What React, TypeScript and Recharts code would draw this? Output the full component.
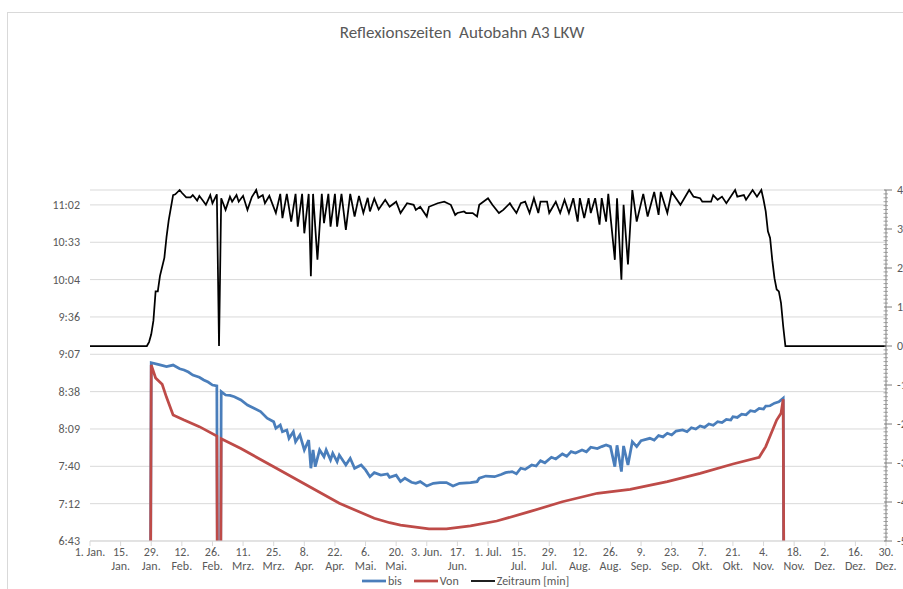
import React from 'react';
import { LineChart, Line, XAxis, YAxis, CartesianGrid } from 'recharts';

const chartTitle = 'Reflexionszeiten  Autobahn A3 LKW';
const seriesNames = ['bis', 'Von', 'Zeitraum [min]'];
const seriesColors = ['#4a7ebb', '#be4b48', '#000000'];

// x axis: day of year (leap year), ticks every 14 days
const xTickDays = [0, 14, 28, 42, 56, 70, 84, 98, 112, 126, 140, 154, 168, 182, 196, 210, 224, 238, 252, 266, 280, 294, 308, 322, 336, 350, 364];
const xTickLabels = ['1. Jan.', '15.\nJan.', '29.\nJan.', '12.\nFeb.', '26.\nFeb.', '11.\nMrz.', '25.\nMrz.', '8.\nApr.', '22.\nApr.', '6.\nMai.', '20.\nMai.', '3. Jun.', '17.\nJun.', '1. Jul.', '15.\nJul.', '29.\nJul.', '12.\nAug.', '26.\nAug.', '9.\nSep.', '23.\nSep.', '7.\nOkt.', '21.\nOkt.', '4.\nNov.', '18.\nNov.', '2.\nDez.', '16.\nDez.', '30.\nDez.'];

// left axis: time of day in minutes after midnight
const timeTicks = [403.2, 432, 460.8, 489.6, 518.4, 547.2, 576, 604.8, 633.6, 662.4];
const timeTickLabels = ['6:43', '7:12', '7:40', '8:09', '8:38', '9:07', '9:36', '10:04', '10:33', '11:02'];
const timeDomain = [403.2, 673.9];

// right axis: minutes
const zeitDomain = [-50, 40];

// "bis" (end of reflection), minutes after midnight
const bisDays = [0, 27, 28, 32, 35, 38, 41, 43, 45, 47, 50, 52, 54, 56, 58, 59, 60, 62, 64, 66, 69, 72, 75, 78, 81, 84, 85, 87, 88, 90, 91, 93, 94, 96, 98, 100, 101, 102, 103, 105, 107, 108, 110, 111, 113, 114, 117, 119, 121, 124, 126, 128, 130, 133, 136, 137, 140, 142, 144, 147, 149, 151, 154, 157, 160, 163, 166, 169, 174, 177, 178, 181, 185, 188, 190, 193, 195, 197, 199, 202, 204, 206, 208, 211, 213, 216, 218, 220, 222, 225, 227, 229, 232, 234, 236, 238, 240, 241, 243, 244, 246, 248, 250, 252, 256, 258, 260, 262, 264, 266, 268, 271, 273, 275, 277, 279, 281, 283, 285, 287, 289, 291, 293, 294, 296, 298, 300, 302, 304, 306, 308, 309, 311, 313, 315, 317, 318, 364];
const bisValues = [0, 0, 540.7, 539, 537.7, 538.9, 536, 535.1, 533.5, 531.2, 529.5, 527.4, 525.8, 523.5, 522.8, 0, 518.4, 515.8, 515.5, 514.5, 512, 508.1, 505.6, 503, 497.9, 495.2, 490.1, 492.7, 487.5, 488.8, 482.4, 487.5, 479.8, 485, 473.4, 481.1, 459.3, 473.4, 460.5, 473.4, 468.2, 473.4, 465.7, 470.9, 464.4, 469.5, 461.8, 467, 459.3, 461.8, 458, 452.8, 455.9, 454.1, 454.9, 452.3, 454, 449, 451.6, 448.5, 447.7, 449, 445.6, 447.7, 448.2, 448.2, 445.6, 447.7, 448.2, 449, 451.6, 453.3, 452.8, 454.5, 455.9, 456.7, 455, 459.3, 458.5, 461.8, 461, 465.1, 463.5, 467.8, 466.5, 470.3, 468.5, 472.1, 471, 473.4, 472, 475.5, 474.5, 476, 477.3, 476, 460.5, 477, 456.7, 476.5, 461.8, 479.8, 476, 480.5, 482.4, 481, 484.5, 483.5, 486.3, 485, 488, 488.8, 487.5, 490.5, 489.5, 491.9, 490.8, 493.5, 492.5, 495.2, 494.5, 497, 496.5, 499.1, 498.5, 501, 500.5, 503.7, 503, 505.5, 505, 507.3, 507.5, 509.5, 510.5, 513.3, 0, 0];

// "Von" (start of reflection), minutes after midnight
const vonDays = [0, 27, 28, 30, 33, 35, 38, 43, 50, 58, 59, 60, 69, 84, 99, 114, 130, 137, 142, 155, 163, 174, 186, 201, 216, 232, 247, 264, 279, 294, 306, 309, 314, 316, 317, 318, 364];
const vonValues = [0, 0, 539, 529, 524, 514, 500.4, 496.5, 491.4, 484.2, 0, 482, 474.5, 460.5, 446.4, 432.3, 420.7, 417.3, 415.5, 412.5, 412.5, 414.8, 418.6, 425.8, 433.5, 440, 443, 449, 455.4, 462.6, 467.8, 476, 496.5, 501.7, 512.5, 0, 0];

// "Zeitraum [min]" (duration)
const zeitDays = [0, 26, 27, 28, 29, 30, 31, 32, 34, 35, 36, 38, 39, 41, 42, 44, 46, 47, 49, 50, 52, 53, 55, 56, 58, 59, 60, 62, 64, 65, 67, 68, 70, 72, 74, 76, 77, 79, 80, 82, 85, 87, 88, 90, 92, 94, 95, 97, 98, 100, 101, 102, 104, 106, 107, 109, 110, 112, 113, 115, 117, 119, 121, 123, 125, 127, 128, 130, 132, 135, 137, 140, 142, 145, 148, 149, 151, 154, 155, 159, 162, 165, 167, 168, 171, 172, 175, 177, 178, 182, 184, 187, 189, 192, 193, 195, 197, 199, 201, 203, 205, 206, 209, 210, 213, 215, 217, 219, 221, 223, 224, 226, 228, 229, 231, 233, 234, 236, 237, 240, 241, 243, 244, 246, 248, 250, 253, 255, 258, 260, 261, 264, 266, 270, 274, 276, 279, 280, 284, 285, 287, 289, 291, 295, 296, 299, 300, 303, 305, 307, 308, 309, 310, 311, 312, 313, 314, 315, 316, 317, 318, 364];
const zeitValues = [0, 0, 1, 3, 6.5, 14, 14, 18, 22.6, 28, 32.3, 38.7, 38.9, 40, 39.3, 38.1, 38.1, 38.7, 37.3, 38.5, 37, 36.2, 38.7, 36.6, 38.9, 0, 37.9, 34.9, 38.3, 37, 38.7, 37, 38.5, 34.9, 38.2, 40, 38, 38.7, 36.6, 38.5, 34.1, 39, 32.8, 39, 31.9, 39, 30.6, 39, 28.9, 39, 17.9, 39, 22.1, 39, 31.5, 39, 30.6, 39, 30.6, 39, 29.8, 39, 33.2, 38.5, 34.1, 38, 34.5, 37.8, 35, 37.5, 35.7, 37, 34.1, 36.6, 36.2, 34.9, 35.7, 33.2, 35.7, 36.6, 37, 36.2, 33.6, 34.1, 34.5, 34.1, 34.1, 33.2, 36.2, 37.9, 36.2, 34.1, 34.9, 36.6, 35.7, 34.1, 36.6, 37, 34.1, 37.9, 34.1, 37, 37, 34.1, 37, 34.1, 37.5, 34.1, 37.9, 31.9, 37.9, 32.8, 37.9, 34.1, 37.9, 31.1, 37.9, 31.9, 39, 22.1, 37.9, 17, 36.2, 20.9, 40, 31.9, 39, 33.2, 39.5, 33.6, 39.5, 34.1, 39.5, 36.2, 40, 38.3, 37.9, 37, 37, 38.7, 37.5, 38.3, 36.6, 40, 38.3, 38.7, 37.5, 40, 38.3, 40, 37.5, 34.5, 29.4, 27.7, 22, 17.4, 14.5, 14, 11, 5, 0, 0];

const bisData = bisDays.map((d, i) => ({ day: d, v: bisValues[i] }));
const vonData = vonDays.map((d, i) => ({ day: d, v: vonValues[i] }));
const zeitData = zeitDays.map((d, i) => ({ day: d, v: zeitValues[i] }));

const zeitTicks: number[] = [];
for (let t = zeitDomain[0]; t <= zeitDomain[1]; t += 1) zeitTicks.push(t);

const FONT = 'Carlito, Calibri, "Liberation Sans", Arial, sans-serif';
const TEXT = '#595959';

const XTick = (props: any) => {
  const { x, y, payload } = props;
  const idx = xTickDays.indexOf(payload.value);
  const lines = (idx >= 0 ? xTickLabels[idx] : '').split('\n');
  return (
    <text x={x} y={y} textAnchor="middle" fill={TEXT} fontSize={12} fontFamily={FONT}>
      {lines.map((l, i) => (
        <tspan key={i} x={x} dy={i === 0 ? 9 : 14}>{l}</tspan>
      ))}
    </text>
  );
};

const LeftTick = (props: any) => {
  const { x, y, payload } = props;
  const idx = timeTicks.indexOf(payload.value);
  return (
    <text x={x} y={y} dy={4} textAnchor="end" fill={TEXT} fontSize={12} fontFamily={FONT}>
      {idx >= 0 ? timeTickLabels[idx] : ''}
    </text>
  );
};

const RightTick = (props: any) => {
  const { x, y, payload } = props;
  const v = payload.value;
  const major = v % 10 === 0;
  return (
    <g>
      {major ? (
        <line x1={x - 2} x2={x + 6} y1={y} y2={y} stroke="#7f7f7f" strokeWidth={1} />
      ) : (
        <line x1={x - 2.5} x2={x + 2} y1={y} y2={y} stroke="#8c8c8c" strokeWidth={0.8} />
      )}
      {major && (
        <text x={x + 11} y={y} dy={4} textAnchor="start" fill={TEXT} fontSize={12} fontFamily={FONT}>
          {v}
        </text>
      )}
    </g>
  );
};

export default function App() {
  return (
    <div style={{ position: 'fixed', left: 0, top: 0, width: 903, height: 589, background: '#fff', overflow: 'hidden', fontFamily: FONT }}>
      <div style={{ position: 'absolute', left: 7, top: 12, width: 920, height: 620, border: '1px solid #d9d9d9' }} />
      <div style={{ position: 'absolute', left: 0, width: 924, top: 23, textAlign: 'center', fontSize: 17, lineHeight: '20px', color: TEXT, whiteSpace: 'pre' }}>
        {chartTitle}
      </div>
      <div style={{ position: 'absolute', left: 0, top: 0 }}>
        <LineChart width={903} height={589} margin={{ top: 190, right: 0, bottom: 8, left: 30 }}>
          <CartesianGrid yAxisId="left" vertical={false} stroke="#d9d9d9" />
          <XAxis
            dataKey="day"
            type="number"
            domain={[0, 364]}
            ticks={xTickDays}
            interval={0}
            height={40}
            tickSize={5}
            tickMargin={1}
            stroke="#d9d9d9"
            tick={<XTick />}
            allowDataOverflow
          />
          <YAxis
            yAxisId="left"
            orientation="left"
            type="number"
            domain={timeDomain}
            ticks={timeTicks}
            interval={0}
            width={60}
            tickSize={0}
            tickMargin={10}
            axisLine={false}
            tickLine={false}
            tick={<LeftTick />}
            allowDataOverflow
          />
          <YAxis
            yAxisId="right"
            orientation="right"
            type="number"
            domain={zeitDomain}
            ticks={zeitTicks}
            interval={0}
            width={17}
            tickSize={0}
            tickMargin={0}
            axisLine={{ stroke: '#7f7f7f' }}
            tickLine={false}
            tick={<RightTick />}
          />
          <Line data={bisData} dataKey="v" name={seriesNames[0]} yAxisId="left" type="linear" stroke={seriesColors[0]} strokeWidth={2.75} dot={false} isAnimationActive={false} />
          <Line data={vonData} dataKey="v" name={seriesNames[1]} yAxisId="left" type="linear" stroke={seriesColors[1]} strokeWidth={2.75} dot={false} isAnimationActive={false} />
          <Line data={zeitData} dataKey="v" name={seriesNames[2]} yAxisId="right" type="linear" stroke={seriesColors[2]} strokeWidth={1.75} dot={false} isAnimationActive={false} />
        </LineChart>
      </div>
      <div style={{ position: 'absolute', left: 362, top: 573, display: 'flex', alignItems: 'center', fontSize: 12, color: TEXT, lineHeight: '16px' }}>
        {seriesNames.map((n, i) => (
          <div key={n} style={{ display: 'flex', alignItems: 'center', marginRight: 12 }}>
            <svg width={24} height={6} style={{ display: 'block' }}>
              <line x1={0} x2={24} y1={3} y2={3} stroke={seriesColors[i]} strokeWidth={i === 2 ? 1.75 : 2.75} />
            </svg>
            <span style={{ marginLeft: 2 }}>{n}</span>
          </div>
        ))}
      </div>
    </div>
  );
}
